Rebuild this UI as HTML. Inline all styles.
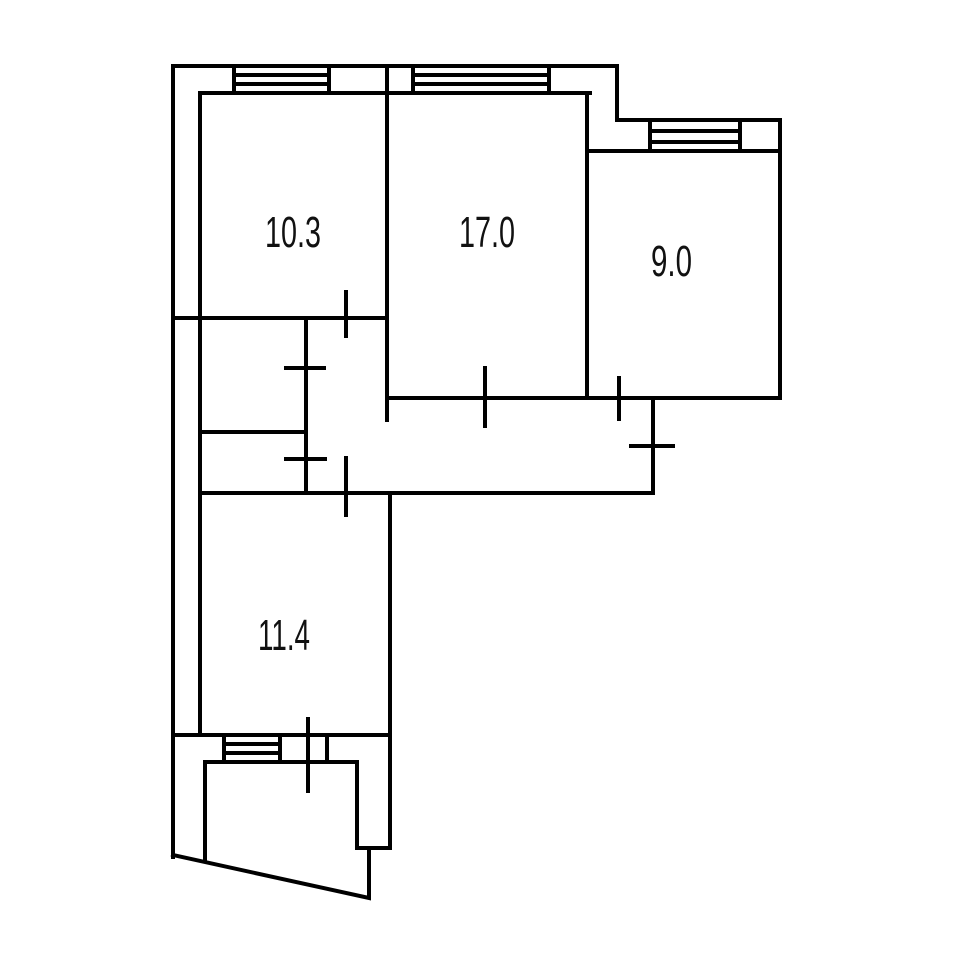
<!DOCTYPE html>
<html><head><style>body{margin:0;background:#fff}svg{display:block}</style></head>
<body>
<svg width="960" height="960" viewBox="0 0 960 960" xmlns="http://www.w3.org/2000/svg">
<g stroke="#000" stroke-width="4" fill="none" stroke-linecap="square">
<!-- outer -->
<polyline points="173,857 173,66 617,66 617,120 780,120 780,398"/>
<!-- inner top -->
<polyline points="200,735 200,93 590,93"/>
<line x1="587" y1="93" x2="587" y2="398"/>
<line x1="587" y1="151" x2="780" y2="151"/>
<line x1="387" y1="66" x2="387" y2="420"/>
<line x1="413" y1="66" x2="413" y2="93"/>
<!-- windows top -->
<line x1="234" y1="66" x2="234" y2="93"/><line x1="329" y1="66" x2="329" y2="93"/>
<line x1="234" y1="75" x2="329" y2="75"/><line x1="234" y1="84" x2="329" y2="84"/>
<line x1="413" y1="75" x2="549" y2="75"/><line x1="413" y1="84" x2="549" y2="84"/>
<line x1="549" y1="66" x2="549" y2="93"/>
<line x1="650" y1="120" x2="650" y2="151"/><line x1="740" y1="120" x2="740" y2="151"/>
<line x1="650" y1="131" x2="740" y2="131"/><line x1="650" y1="142" x2="740" y2="142"/>
<!-- middle -->
<line x1="173" y1="318" x2="387" y2="318"/>
<line x1="387" y1="398" x2="780" y2="398"/>
<line x1="306" y1="318" x2="306" y2="493"/>
<line x1="200" y1="432" x2="306" y2="432"/>
<line x1="200" y1="493" x2="653" y2="493"/>
<line x1="653" y1="398" x2="653" y2="493"/>
<!-- ticks -->
<line x1="346" y1="292" x2="346" y2="336"/>
<line x1="485" y1="368" x2="485" y2="426"/>
<line x1="286" y1="368" x2="324" y2="368"/>
<line x1="286" y1="459" x2="325" y2="459"/>
<line x1="346" y1="458" x2="346" y2="515"/>
<line x1="619" y1="378" x2="619" y2="419"/>
<line x1="631" y1="446" x2="673" y2="446"/>
<!-- lower -->
<line x1="390" y1="493" x2="390" y2="848"/>
<line x1="173" y1="735" x2="390" y2="735"/>
<line x1="224" y1="735" x2="224" y2="762"/><line x1="280" y1="735" x2="280" y2="762"/>
<line x1="224" y1="744" x2="280" y2="744"/><line x1="224" y1="753" x2="280" y2="753"/>
<line x1="327" y1="735" x2="327" y2="762"/>
<polyline points="205,860 205,762 357,762 357,848 390,848"/>
<polyline points="369,848 369,898 173,855"/>
<line x1="308" y1="719" x2="308" y2="791"/>
</g>
<g font-family="'Liberation Sans Narrow','Liberation Sans',sans-serif" font-size="44" fill="#111">
<text x="265" y="247" textLength="56" lengthAdjust="spacingAndGlyphs">10.3</text>
<text x="459" y="247" textLength="56" lengthAdjust="spacingAndGlyphs">17.0</text>
<text x="651" y="276" textLength="41" lengthAdjust="spacingAndGlyphs">9.0</text>
<text x="258" y="650" textLength="52" lengthAdjust="spacingAndGlyphs">11.4</text>
</g>
</svg>
</body></html>
